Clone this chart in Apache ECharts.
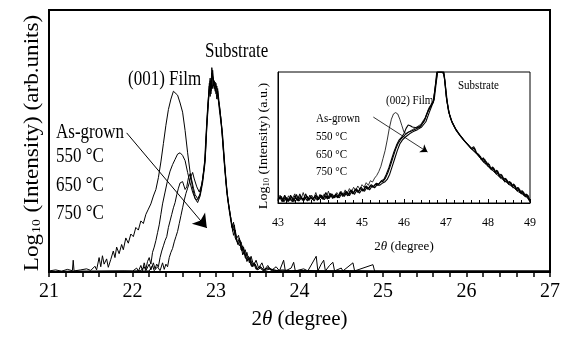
<!DOCTYPE html>
<html><head><meta charset="utf-8">
<script src="https://cdn.jsdelivr.net/npm/echarts@6/dist/echarts.min.js"></script>
<style>html,body{margin:0;padding:0;background:#fff}#c{width:564px;height:337px}</style>
</head><body><div id="c"></div>
<script>
var mainTicks = [21, 22, 23, 24, 25, 26, 27];
var insetTicks = [43, 44, 45, 46, 47, 48, 49];
var mainLabels = ['As-grown', '550 °C', '650 °C', '750 °C'];

var asGrownMain = [[21.00,0.04],[21.08,0.08],[21.15,0.03],[21.22,0.10],[21.28,0.05],[21.29,0.45],[21.30,0.04],[21.38,0.08],[21.45,0.12],[21.50,0.06],[21.55,0.22],[21.57,0.08],[21.60,0.55],[21.62,0.20],[21.64,0.62],[21.66,0.30],[21.69,0.50],[21.71,0.18],[21.74,0.48],[21.77,0.80],[21.79,0.55],[21.81,0.95],[21.84,0.70],[21.87,1.05],[21.89,0.85],[21.92,1.30],[21.95,1.10],[21.98,1.45],[22.01,1.35],[22.04,1.70],[22.07,1.60],[22.10,1.95],[22.13,1.85],[22.16,2.20],[22.19,2.40],[22.22,2.60],[22.25,2.90],[22.28,3.15],[22.31,3.60],[22.34,4.20],[22.37,4.90],[22.40,5.60],[22.43,6.20],[22.46,6.60],[22.49,6.90],[22.51,6.95],[22.54,6.75],[22.57,6.45],[22.60,6.10],[22.63,5.40],[22.66,4.55],[22.69,3.80],[22.72,3.20],[22.75,2.80],[22.78,2.65],[22.81,2.90],[22.84,3.40],[22.87,4.20],[22.89,5.60],[22.91,6.60],[22.93,7.40],[22.94,7.00],[22.95,7.80],[22.97,7.10],[22.99,7.25],[23.01,6.60],[23.02,6.90],[23.04,6.20],[23.07,5.40],[23.10,4.10],[23.13,3.00],[23.16,2.30],[23.19,1.70],[23.21,1.90],[23.23,1.30],[23.26,1.10],[23.28,1.30],[23.31,0.80],[23.33,0.95],[23.36,0.50],[23.39,0.60],[23.42,0.25],[23.45,0.35],[23.48,0.10],[23.52,0.20],[23.56,0.05],[23.62,0.15],[23.70,0.05],[23.80,0.08],[23.90,0.04],[24.00,0.06],[24.30,0.04],[24.60,0.05],[25.00,0.03],[27.00,0.03]];

var c550Main = [[21.00,0.02],[21.50,0.03],[21.90,0.04],[22.00,0.03],[22.05,0.15],[22.07,0.03],[22.10,0.25],[22.12,0.05],[22.14,0.35],[22.16,0.10],[22.18,0.40],[22.20,0.55],[22.22,0.30],[22.24,0.75],[22.26,0.95],[22.28,1.20],[22.30,1.50],[22.32,1.80],[22.34,2.20],[22.36,2.60],[22.39,3.05],[22.42,3.50],[22.45,3.85],[22.48,4.10],[22.51,4.30],[22.54,4.50],[22.57,4.55],[22.60,4.45],[22.63,4.25],[22.66,3.80],[22.69,3.40],[22.72,3.05],[22.75,2.80],[22.78,2.75],[22.81,3.00],[22.84,3.50],[22.87,4.30],[22.89,5.50],[22.91,6.50],[22.93,7.30],[22.94,6.90],[22.96,7.70],[22.98,7.00],[23.00,7.20],[23.02,6.70],[23.04,6.40],[23.07,5.50],[23.10,4.20],[23.13,3.10],[23.16,2.40],[23.18,2.00],[23.20,1.55],[23.22,1.70],[23.25,1.20],[23.28,1.00],[23.30,1.15],[23.33,0.70],[23.35,0.85],[23.38,0.45],[23.41,0.55],[23.44,0.20],[23.47,0.30],[23.50,0.08],[23.54,0.18],[23.58,0.05],[23.65,0.12],[23.75,0.04],[24.00,0.05],[25.00,0.03],[27.00,0.03]];

var c650Main = [[21.00,0.02],[22.00,0.03],[22.10,0.05],[22.14,0.20],[22.16,0.05],[22.20,0.30],[22.22,0.08],[22.25,0.35],[22.27,0.12],[22.29,0.30],[22.31,0.20],[22.33,0.55],[22.35,0.80],[22.37,1.00],[22.39,1.20],[22.41,1.35],[22.43,1.70],[22.45,1.95],[22.47,2.20],[22.49,2.45],[22.51,2.65],[22.53,2.95],[22.55,3.20],[22.57,3.40],[22.60,3.45],[22.63,3.15],[22.65,3.25],[22.67,3.60],[22.69,3.75],[22.71,3.50],[22.73,3.20],[22.75,2.95],[22.78,2.80],[22.81,2.95],[22.84,3.55],[22.87,4.40],[22.89,5.70],[22.91,6.70],[22.92,7.20],[22.94,6.80],[22.95,7.60],[22.97,7.30],[22.99,6.90],[23.01,7.10],[23.03,6.50],[23.05,6.10],[23.08,5.20],[23.11,3.90],[23.14,2.80],[23.17,2.20],[23.19,1.80],[23.21,1.40],[23.23,1.60],[23.26,1.05],[23.29,1.20],[23.32,0.65],[23.34,0.80],[23.37,0.40],[23.40,0.55],[23.43,0.20],[23.46,0.35],[23.49,0.10],[23.53,0.22],[23.57,0.06],[23.63,0.18],[23.68,0.05],[23.80,0.04],[25.00,0.03],[27.00,0.03]];

var c750Main = [[21.00,0.02],[22.00,0.03],[22.20,0.04],[22.24,0.25],[22.26,0.05],[22.30,0.20],[22.33,0.05],[22.36,0.35],[22.38,0.10],[22.40,0.30],[22.42,0.20],[22.44,0.55],[22.46,0.75],[22.48,0.90],[22.50,1.15],[22.52,1.35],[22.54,1.55],[22.56,1.85],[22.58,2.15],[22.60,2.45],[22.62,2.75],[22.64,3.00],[22.66,3.20],[22.68,3.40],[22.70,3.65],[22.72,3.80],[22.74,3.55],[22.77,3.25],[22.80,3.05],[22.83,3.35],[22.86,4.00],[22.88,5.20],[22.90,6.30],[22.92,7.10],[22.93,6.70],[22.95,7.50],[22.96,7.00],[22.98,7.30],[23.00,6.80],[23.02,7.00],[23.04,6.40],[23.06,5.80],[23.09,4.60],[23.12,3.40],[23.15,2.60],[23.18,2.00],[23.20,1.65],[23.22,1.80],[23.24,1.25],[23.27,1.40],[23.30,0.85],[23.32,1.00],[23.35,0.55],[23.37,0.75],[23.40,0.35],[23.42,0.60],[23.45,0.25],[23.48,0.45],[23.51,0.15],[23.55,0.35],[23.58,0.08],[23.62,0.25],[23.66,0.05],[23.72,0.20],[23.76,0.04],[23.81,0.45],[23.83,0.04],[23.90,0.15],[23.93,0.37],[23.95,0.04],[24.05,0.12],[24.10,0.04],[24.20,0.60],[24.22,0.04],[24.26,0.30],[24.29,0.45],[24.31,0.04],[24.36,0.25],[24.40,0.37],[24.42,0.04],[24.50,0.15],[24.52,0.04],[24.64,0.35],[24.66,0.04],[24.88,0.28],[24.90,0.03],[25.20,0.03],[27.00,0.03]];

var asGrownInset = [[43.00,0.3],[43.05,0.6],[43.10,0.2],[43.15,0.5],[43.20,0.15],[43.25,0.55],[43.30,0.2],[43.35,0.4],[43.40,0.7],[43.45,0.2],[43.50,0.5],[43.55,0.3],[43.60,0.8],[43.65,0.3],[43.70,0.5],[43.75,0.2],[43.80,0.6],[43.85,0.35],[43.90,0.8],[43.95,0.35],[44.00,0.5],[44.05,0.3],[44.10,0.7],[44.15,0.4],[44.20,0.9],[44.25,0.45],[44.30,0.65],[44.35,0.5],[44.40,0.8],[44.45,0.55],[44.50,0.9],[44.55,0.65],[44.60,1.0],[44.65,0.75],[44.70,1.1],[44.75,0.85],[44.80,1.2],[44.85,0.95],[44.90,1.3],[44.95,1.05],[45.00,1.4],[45.05,1.2],[45.10,1.55],[45.15,1.35],[45.20,1.7],[45.25,1.6],[45.30,1.9],[45.35,2.1],[45.40,2.4],[45.45,2.8],[45.50,3.4],[45.55,4.0],[45.60,4.8],[45.65,5.7],[45.70,6.4],[45.75,6.8],[45.80,6.9],[45.85,6.8],[45.90,6.4],[45.95,5.9],[46.00,5.4],[46.05,5.3],[46.10,5.4],[46.20,5.6],[46.30,5.8],[46.40,6.0],[46.50,6.5],[46.60,7.3],[46.70,7.8],[46.75,9.0],[46.80,10],[46.90,10],[46.95,9.8],[47.00,8.6],[47.05,7.3],[47.10,6.5],[47.20,5.8],[47.30,5.3],[47.40,4.9],[47.50,4.5],[47.60,4.2],[47.70,3.9],[47.80,3.5],[47.90,3.1],[48.00,2.8],[48.10,2.5],[48.20,2.2],[48.30,1.9],[48.40,1.7],[48.50,1.4],[48.60,1.2],[48.70,0.9],[48.80,0.7],[48.90,0.5],[49.00,0.2]];

var c550Inset = [[43.00,0.2],[43.06,0.5],[43.12,0.15],[43.18,0.45],[43.24,0.1],[43.30,0.6],[43.36,0.2],[43.42,0.4],[43.48,0.15],[43.54,0.5],[43.60,0.25],[43.66,0.7],[43.72,0.2],[43.78,0.45],[43.84,0.3],[43.90,0.6],[43.96,0.25],[44.02,0.55],[44.08,0.3],[44.14,0.8],[44.20,0.35],[44.26,0.6],[44.32,0.4],[44.38,0.7],[44.44,0.45],[44.50,0.8],[44.56,0.55],[44.62,0.9],[44.68,0.6],[44.74,1.0],[44.80,0.75],[44.86,1.1],[44.92,0.85],[44.98,1.2],[45.04,0.95],[45.10,1.3],[45.16,1.1],[45.22,1.4],[45.28,1.25],[45.34,1.5],[45.40,1.45],[45.46,1.7],[45.52,1.8],[45.58,2.2],[45.64,2.7],[45.70,3.3],[45.76,3.9],[45.82,4.4],[45.88,4.8],[45.94,5.0],[46.00,5.3],[46.05,5.7],[46.10,5.95],[46.15,5.9],[46.20,5.8],[46.30,5.75],[46.40,5.9],[46.50,6.4],[46.58,7.1],[46.65,7.5],[46.70,7.8],[46.74,8.8],[46.78,10],[46.95,10],[46.98,9.2],[47.02,7.8],[47.08,6.8],[47.15,6.1],[47.25,5.5],[47.35,5.1],[47.45,4.7],[47.55,4.35],[47.65,4.0],[47.72,3.8],[47.76,3.95],[47.80,3.5],[47.85,3.35],[47.90,3.1],[47.95,3.2],[48.00,2.8],[48.05,2.7],[48.10,2.5],[48.15,2.6],[48.20,2.2],[48.25,2.3],[48.30,1.9],[48.35,2.0],[48.40,1.6],[48.45,1.75],[48.50,1.4],[48.55,1.55],[48.60,1.15],[48.65,1.3],[48.70,0.9],[48.75,1.05],[48.80,0.7],[48.85,0.8],[48.90,0.45],[48.95,0.6],[49.00,0.2]];

var c650Inset = [[43.00,0.15],[43.04,0.45],[43.10,0.1],[43.16,0.6],[43.22,0.2],[43.28,0.4],[43.34,0.1],[43.40,0.55],[43.46,0.2],[43.52,0.7],[43.58,0.2],[43.64,0.45],[43.70,0.15],[43.76,0.6],[43.82,0.25],[43.88,0.5],[43.94,0.2],[44.00,0.65],[44.06,0.3],[44.12,0.55],[44.18,0.3],[44.24,0.75],[44.30,0.35],[44.36,0.6],[44.42,0.4],[44.48,0.85],[44.54,0.5],[44.60,0.8],[44.66,0.55],[44.72,0.95],[44.78,0.7],[44.84,1.05],[44.90,0.8],[44.96,1.15],[45.02,0.9],[45.08,1.25],[45.14,1.05],[45.20,1.35],[45.26,1.2],[45.32,1.45],[45.38,1.35],[45.44,1.6],[45.50,1.65],[45.56,1.9],[45.62,2.35],[45.68,2.9],[45.74,3.5],[45.80,4.1],[45.86,4.55],[45.92,4.85],[45.98,5.05],[46.04,5.25],[46.10,5.4],[46.18,5.5],[46.28,5.65],[46.38,5.8],[46.48,6.25],[46.56,6.9],[46.64,7.4],[46.70,7.7],[46.74,8.7],[46.79,10],[46.94,10],[46.97,9.4],[47.01,8.0],[47.07,6.9],[47.14,6.2],[47.24,5.6],[47.34,5.15],[47.44,4.75],[47.54,4.4],[47.62,4.1],[47.68,4.2],[47.74,3.75],[47.82,3.55],[47.87,3.25],[47.92,3.35],[47.98,2.9],[48.03,2.95],[48.08,2.55],[48.13,2.7],[48.18,2.3],[48.23,2.45],[48.28,2.0],[48.33,2.15],[48.38,1.7],[48.43,1.85],[48.48,1.5],[48.53,1.6],[48.58,1.25],[48.63,1.4],[48.68,1.0],[48.73,1.15],[48.78,0.75],[48.83,0.9],[48.88,0.5],[48.93,0.65],[48.97,0.3],[49.00,0.15]];

var c750Inset = [[43.00,0.25],[43.08,0.5],[43.14,0.1],[43.20,0.4],[43.26,0.15],[43.32,0.5],[43.38,0.1],[43.44,0.65],[43.50,0.15],[43.56,0.4],[43.62,0.2],[43.68,0.55],[43.74,0.3],[43.80,0.45],[43.86,0.15],[43.92,0.55],[43.98,0.3],[44.04,0.6],[44.10,0.25],[44.16,0.5],[44.22,0.35],[44.28,0.7],[44.34,0.4],[44.40,0.55],[44.46,0.4],[44.52,0.75],[44.58,0.5],[44.64,0.85],[44.70,0.55],[44.76,0.9],[44.82,0.65],[44.88,1.0],[44.94,0.75],[45.00,1.05],[45.06,0.9],[45.12,1.2],[45.18,1.0],[45.24,1.3],[45.30,1.15],[45.36,1.4],[45.42,1.35],[45.48,1.5],[45.54,1.6],[45.60,1.8],[45.66,2.2],[45.72,2.8],[45.78,3.4],[45.84,4.0],[45.90,4.5],[45.96,4.8],[46.02,5.0],[46.08,5.15],[46.14,5.3],[46.22,5.45],[46.32,5.6],[46.42,5.8],[46.52,6.2],[46.60,6.9],[46.66,7.4],[46.72,7.9],[46.76,9.0],[46.80,10],[46.93,10],[46.96,9.6],[47.00,8.3],[47.06,7.0],[47.13,6.3],[47.22,5.7],[47.32,5.2],[47.42,4.8],[47.52,4.45],[47.60,4.15],[47.66,4.3],[47.71,3.85],[47.78,3.7],[47.84,3.3],[47.89,3.45],[47.94,3.0],[48.00,3.05],[48.06,2.6],[48.11,2.75],[48.16,2.35],[48.21,2.5],[48.26,2.05],[48.31,2.2],[48.36,1.8],[48.41,1.9],[48.46,1.55],[48.51,1.65],[48.56,1.3],[48.61,1.45],[48.66,1.05],[48.71,1.2],[48.76,0.8],[48.81,0.95],[48.86,0.55],[48.91,0.7],[48.96,0.3],[49.00,0.1]];

var mainArrow = [[21.93, 5.31], [22.89, 1.68]];
var insetArrow = [[45.27, 6.56], [46.56, 3.89]];

var SERIF = "'Liberation Serif', 'Times New Roman', serif";
var chart = echarts.init(document.getElementById('c'), null, {renderer: 'canvas'});

function lineSeries(data, xi, w, extra) {
  var s = {
    type: 'line', data: data, xAxisIndex: xi, yAxisIndex: xi,
    showSymbol: false, symbol: 'none', animation: false, silent: true, clip: true,
    lineStyle: {color: '#000', width: w}
  };
  if (extra) s.markLine = extra;
  return s;
}
function arrowMark(pts, size, w) {
  return {
    silent: true, animation: false, symbol: ['none', 'arrow'], symbolSize: size,
    lineStyle: {color: '#000', width: w, type: 'solid'}, label: {show: false},
    emphasis: {disabled: true},
    data: [[{coord: pts[0]}, {coord: pts[1]}]]
  };
}
function txt(x, y, text, size, sy) {
  return {type: 'text', x: x, y: y, z: 100, silent: true, scaleY: sy || 1.2,
    style: {text: text, fill: '#000', font: size + 'px ' + SERIF,
      align: 'left', textAlign: 'left', verticalAlign: 'middle', textVerticalAlign: 'middle'}};
}

var option = {
  backgroundColor: '#fff',
  animation: false,
  grid: [
    {left: 49, top: 10, width: 501, height: 262, show: true, borderColor: '#000', borderWidth: 2, backgroundColor: 'transparent'},
    {left: 278, top: 72, width: 252, height: 131, show: true, borderColor: '#000', borderWidth: 1, backgroundColor: '#fff'}
  ],
  xAxis: [
    {type: 'value', gridIndex: 0, min: mainTicks[0], max: mainTicks[mainTicks.length - 1], interval: 1,
      name: '{a|2}{i|θ}{a| (degree)}', nameLocation: 'middle', nameGap: 37,
      nameTextStyle: {rich: {a: {fontSize: 21, fontFamily: SERIF, color: '#000'}, i: {fontSize: 21, fontFamily: SERIF, fontStyle: 'italic', color: '#000'}}},
      axisLine: {show: true, lineStyle: {color: '#000', width: 2}},
      axisTick: {show: true, inside: false, length: 5, lineStyle: {color: '#000', width: 1.5}},
      minorTick: {show: true, splitNumber: 5, length: 5, lineStyle: {color: '#000', width: 1.5}},
      axisLabel: {color: '#000', fontSize: 20, fontFamily: SERIF, margin: 10},
      splitLine: {show: false}, minorSplitLine: {show: false}},
    {type: 'value', gridIndex: 1, min: insetTicks[0], max: insetTicks[insetTicks.length - 1], interval: 1,
      name: '{a|2}{i|θ}{a| (degree)}', nameLocation: 'middle', nameGap: 37,
      nameTextStyle: {rich: {a: {fontSize: 13, fontFamily: SERIF, color: '#000'}, i: {fontSize: 13, fontFamily: SERIF, fontStyle: 'italic', color: '#000'}}},
      axisLine: {show: true, lineStyle: {color: '#000', width: 1}},
      axisTick: {show: true, inside: true, length: 4, lineStyle: {color: '#000', width: 1}},
      minorTick: {show: true, splitNumber: 5, length: 3, lineStyle: {color: '#000', width: 1}},
      axisLabel: {color: '#000', fontSize: 12, fontFamily: SERIF, margin: 14},
      splitLine: {show: false}, minorSplitLine: {show: false}}
  ],
  yAxis: [
    {type: 'value', gridIndex: 0, min: 0, max: 10,
      axisLine: {show: true, lineStyle: {color: '#000', width: 2}},
      axisTick: {show: false}, axisLabel: {show: false}, splitLine: {show: false}},
    {type: 'value', gridIndex: 1, min: 0, max: 10,
      axisLine: {show: true, lineStyle: {color: '#000', width: 1}},
      axisTick: {show: false}, axisLabel: {show: false}, splitLine: {show: false}}
  ],
  series: [
    lineSeries(asGrownMain, 0, 1, arrowMark(mainArrow, 13, 1)),
    lineSeries(c550Main, 0, 1),
    lineSeries(c650Main, 0, 1),
    lineSeries(c750Main, 0, 1),
    lineSeries(asGrownInset, 1, 0.8, arrowMark(insetArrow, 7, 0.8)),
    lineSeries(c550Inset, 1, 1.1),
    lineSeries(c650Inset, 1, 1.1),
    lineSeries(c750Inset, 1, 1.1)
  ],
  graphic: [
    txt(205, 52, 'Substrate', 17),
    txt(128, 80, '(001) Film', 17),
    txt(56, 133, mainLabels[0], 17),
    txt(56, 157, mainLabels[1], 17),
    txt(56, 186, mainLabels[2], 17),
    txt(56, 214, mainLabels[3], 17),
    txt(458, 86, 'Substrate', 11),
    txt(386, 101, '(002) Film', 11),
    txt(316, 119, mainLabels[0], 11),
    txt(316, 137, mainLabels[1], 11),
    txt(316, 155, mainLabels[2], 11),
    txt(316, 172, mainLabels[3], 11),
    {type: 'text', x: 31, y: 143, rotation: Math.PI / 2, scaleX: 1.05, z: 100, silent: true,
      style: {text: '{a|Log}{s|10}{a| (Intensity) (arb.units)}', align: 'center', textAlign: 'center', verticalAlign: 'middle', textVerticalAlign: 'middle', fill: '#000',
        rich: {a: {fontSize: 22, fontFamily: SERIF, fill: '#000', color: '#000', lineHeight: 24, verticalAlign: 'bottom'},
               s: {fontSize: 13, fontFamily: SERIF, fill: '#000', color: '#000', lineHeight: 24, verticalAlign: 'bottom', padding: [0, 1, 0, 1]}}}},
    {type: 'text', x: 263, y: 146, rotation: Math.PI / 2, scaleX: 1.08, z: 100, silent: true,
      style: {text: '{a|Log}{s|10}{a| (Intensity) (a.u.)}', align: 'center', textAlign: 'center', verticalAlign: 'middle', textVerticalAlign: 'middle', fill: '#000',
        rich: {a: {fontSize: 13, fontFamily: SERIF, fill: '#000', color: '#000', lineHeight: 15, verticalAlign: 'bottom'},
               s: {fontSize: 8, fontFamily: SERIF, fill: '#000', color: '#000', lineHeight: 15, verticalAlign: 'bottom'}}}}
  ]
};
chart.setOption(option);
</script>
</body></html>
